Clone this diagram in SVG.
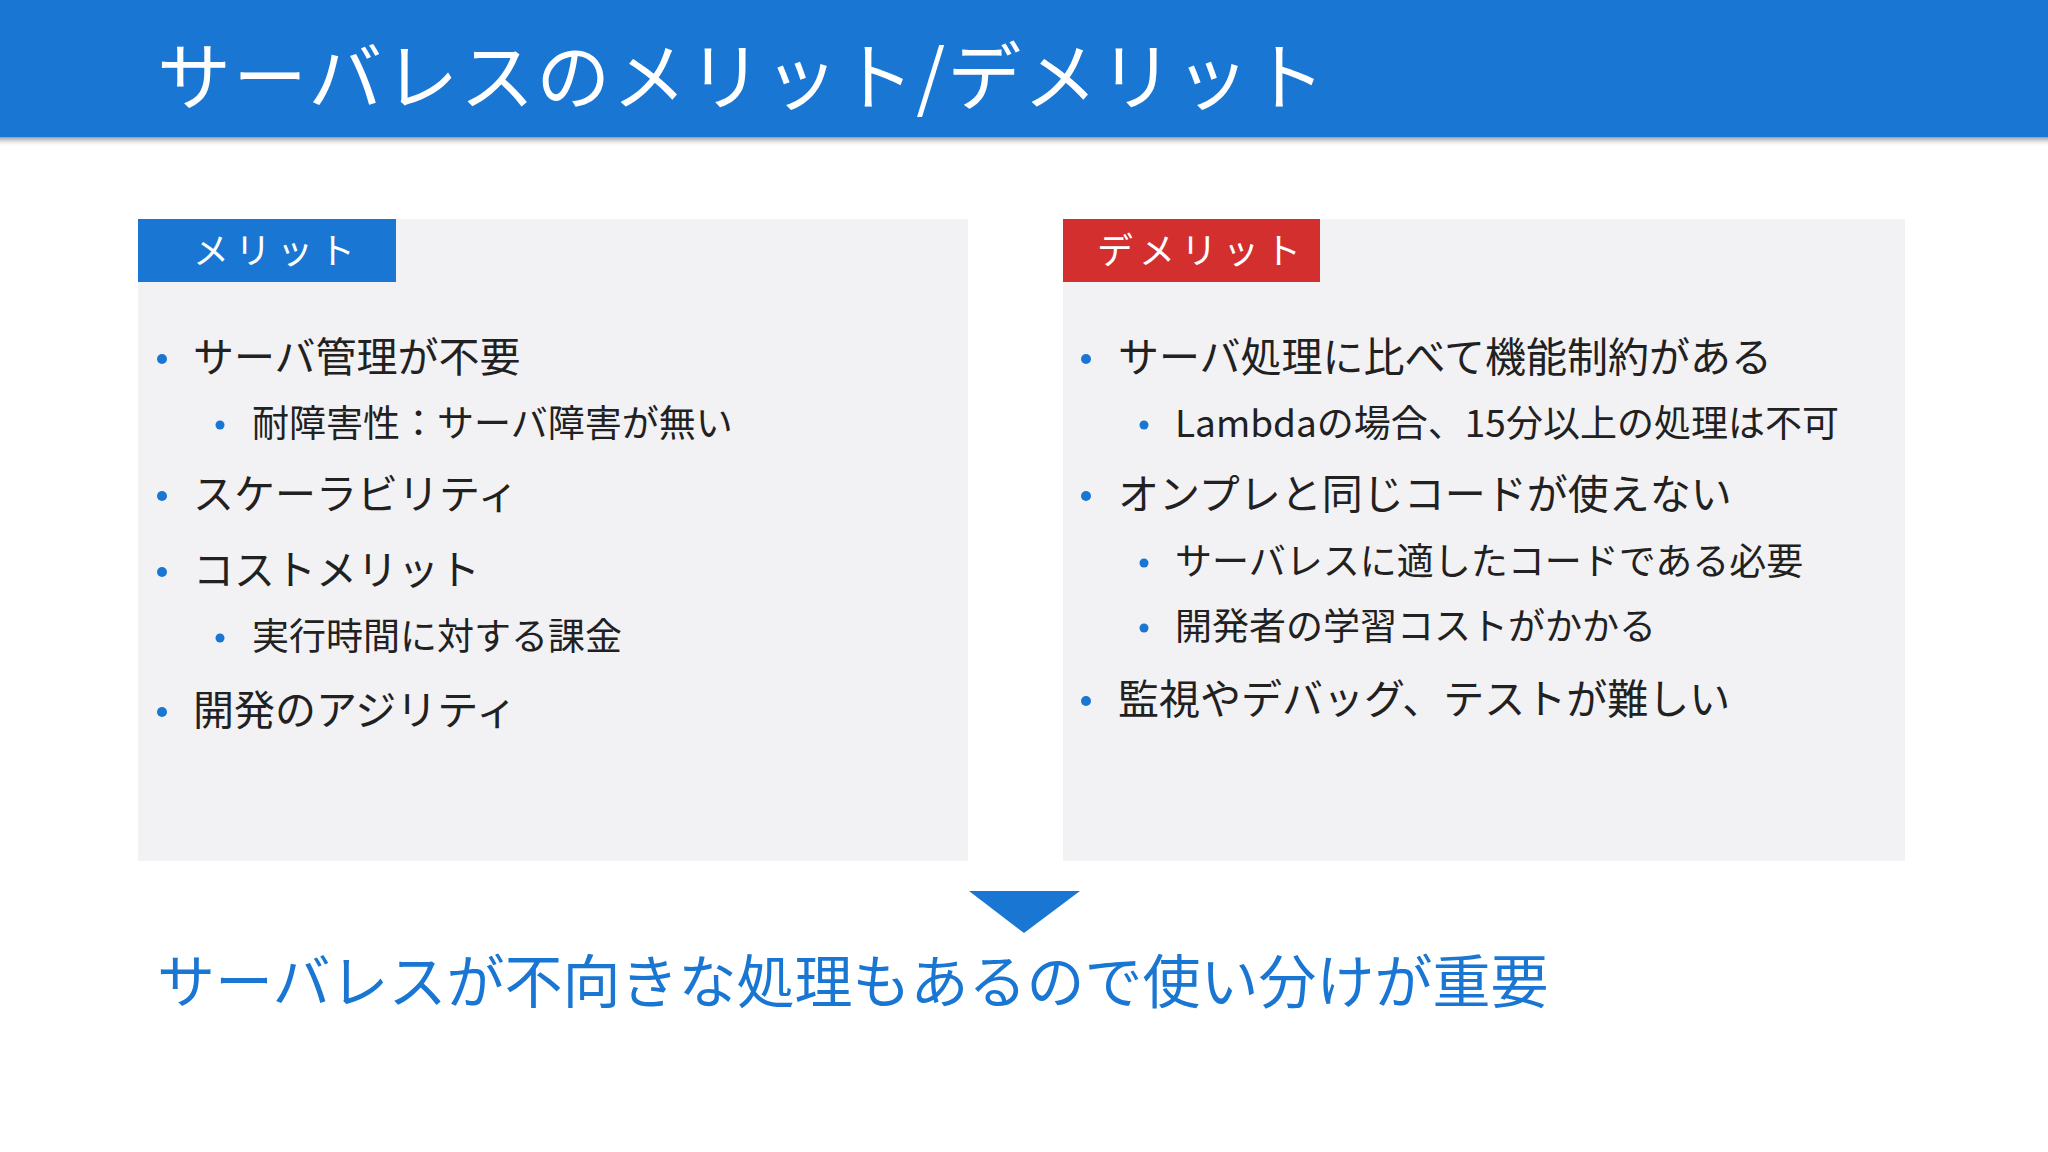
<svg xmlns="http://www.w3.org/2000/svg" width="2048" height="1152" viewBox="0 0 2048 1152">
<defs>
<linearGradient id="sh" x1="0" y1="0" x2="0" y2="1"><stop offset="0" stop-color="#999"/><stop offset="1" stop-color="#fff" stop-opacity="0"/></linearGradient>
<style>
text{font-family:"Noto Sans CJK JP","Noto Sans",sans-serif}
.m{font-size:41px;fill:#212121}
.s{font-size:37px;fill:#212121}
.d{fill:#1976D2}
.lbl{font-size:36px;fill:#fff;letter-spacing:6px}
</style>
</defs>
<rect width="2048" height="1152" fill="#fff"/>
<rect y="137" width="2048" height="10" fill="url(#sh)"/>
<rect width="2048" height="137" fill="#1976D2"/>
<text x="157" y="104" font-size="74" fill="#fff" letter-spacing="2">サーバレスのメリット/デメリット</text>
<g id="merit">
<rect x="138" y="219" width="830" height="642" fill="#F2F1F4"/>
<rect x="138" y="219" width="258" height="63" fill="#1976D2"/>
<text class="lbl" x="193" y="264">メリット</text>
<circle class="d" cx="162" cy="359" r="5"/><text class="m" x="193" y="372">サーバ管理が不要</text>
<circle class="d" cx="220" cy="425" r="4.5"/><text class="s" x="252" y="437">耐障害性：サーバ障害が無い</text>
<circle class="d" cx="162" cy="496" r="5"/><text class="m" x="193" y="509">スケーラビリティ</text>
<circle class="d" cx="162" cy="572" r="5"/><text class="m" x="193" y="585">コストメリット</text>
<circle class="d" cx="220" cy="638" r="4.5"/><text class="s" x="252" y="650">実行時間に対する課金</text>
<circle class="d" cx="162" cy="712" r="5"/><text class="m" x="193" y="725">開発のアジリティ</text>
</g>
<g id="demerit">
<rect x="1063" y="219" width="842" height="642" fill="#F2F1F4"/>
<rect x="1063" y="219" width="257" height="63" fill="#D32F2F"/>
<text class="lbl" x="1097" y="264">デメリット</text>
<circle class="d" cx="1086" cy="359" r="5"/><text class="m" x="1118" y="372">サーバ処理に比べて機能制約がある</text>
<circle class="d" cx="1144" cy="425" r="4.5"/><text class="s" x="1175" y="437">Lambdaの場合、15分以上の処理は不可</text>
<circle class="d" cx="1086" cy="496" r="5"/><text class="m" x="1118" y="509">オンプレと同じコードが使えない</text>
<circle class="d" cx="1144" cy="563" r="4.5"/><text class="s" x="1175" y="575">サーバレスに適したコードである必要</text>
<circle class="d" cx="1144" cy="628" r="4.5"/><text class="s" x="1175" y="640">開発者の学習コストがかかる</text>
<circle class="d" cx="1086" cy="701" r="5"/><text class="m" x="1118" y="714">監視やデバッグ、テストが難しい</text>
</g>
<g id="connectors">
<polygon points="969,891 1080,891 1024,933" fill="#1976D2"/>
</g>
<g id="conclusion">
<text x="157" y="1003" font-size="58" fill="#1976D2">サーバレスが不向きな処理もあるので使い分けが重要</text>
</g>
</svg>
